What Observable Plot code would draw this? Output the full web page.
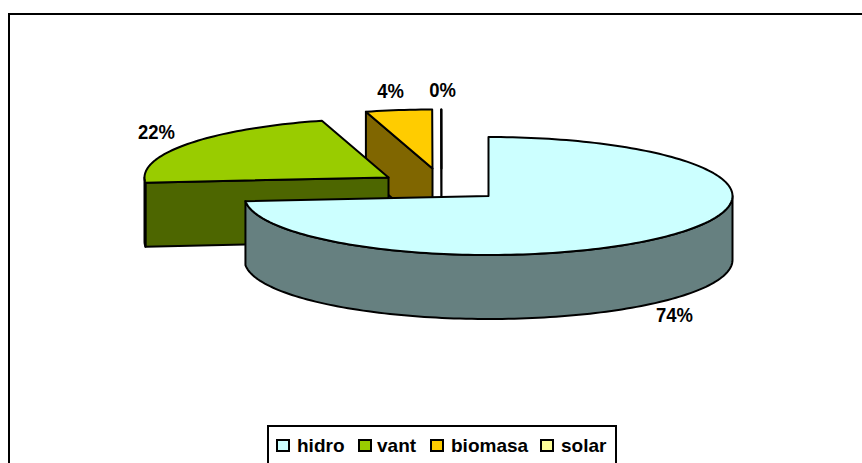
<!DOCTYPE html>
<html><head><meta charset="utf-8">
<script src="https://cdn.jsdelivr.net/npm/d3@7"></script>
<script src="https://cdn.jsdelivr.net/npm/@observablehq/plot@0.6"></script>
<style>
html,body{margin:0;padding:0;background:#fff;overflow:hidden;width:862px;height:463px}
#frame{position:absolute;left:8px;top:13px;width:860px;height:470px;border:2px solid #000;box-sizing:border-box}
#chart{position:absolute;left:0;top:0}
#legend{position:absolute;left:267px;top:425px;width:350px;height:50px;box-sizing:border-box;border:2px solid #000;background:#fff;font:bold 19px "Liberation Sans",Arial,sans-serif;color:#000}
#legend span{position:absolute;top:8px;white-space:nowrap;line-height:22px}
#legend i{position:absolute;top:12px;width:14px;height:13px;box-sizing:border-box;border:2px solid #000}
</style></head><body>
<div id="frame"></div><div id="chart"></div><div id="legend"></div>
<script>
const categories = ["hidro","vant","biomasa","solar"];
const shares = [73.6, 22.0, 4.38, 0.02];
const labels = ["74%","22%","4%","0%"];
const topColors = ["#CCFFFF","#99CC00","#FFCC00","#FFFF99"];
const wallColors = ["#668080","#4D6600","#806600","#808040"];
const centersX = [488,388,432,441];
const centersY = [195.5,177,168,168];
const labelX = [674,156,390,442];
const labelY = [315,132,91,90];
const legendSwatchX = [7,89,161,271];
const legendTextX = [28,108,182,292];

const rx=244, ry=59, depth=64;
const pt=(i,a)=>({x:centersX[i]+rx*Math.sin(a),y:centersY[i]-ry*Math.cos(a)});
const down=p=>({x:p.x,y:p.y+depth});
let cum=0;
const slices=shares.map((s,i)=>{const a0=cum/100*2*Math.PI; cum+=s; return {i,a0,a1:cum/100*2*Math.PI};});
const arc=(i,a0,a1)=>{const n=Math.max(2,Math.ceil((a1-a0)*40));return d3.range(n+1).map(k=>pt(i,a0+(a1-a0)*k/n));};
const poly=(pts,fill)=>Plot.line(pts,{x:"x",y:"y",fill,stroke:"#000",strokeWidth:2,curve:"linear-closed",strokeLinejoin:"round"});
const apex=i=>({x:centersX[i],y:centersY[i]});
const marks=[];
// back to front: solar, biomasa, vant, hidro
for(const k of [3,2,1,0]){
  const {i,a0,a1}=slices[k];
  if(k>0){ // radial wall facing the viewer at the slice's start edge
    const p=pt(i,a0), c=apex(i);
    marks.push(poly([p,c,down(c),down(p)],wallColors[i]));
  }
  const lo=Math.max(a0,Math.PI/2), hi=Math.min(a1,1.5*Math.PI);
  if(hi>lo){
    const a=arc(i,lo,hi);
    marks.push(poly([...a,...a.map(down).reverse()],wallColors[i]));
  }
  marks.push(poly([apex(i),...arc(i,a0,a1)],topColors[i]));
}
marks.push(Plot.text(labels,{x:(d,i)=>labelX[i],y:(d,i)=>labelY[i],text:d=>d,fontSize:20,fontWeight:"bold",fontFamily:"Liberation Sans, Arial, sans-serif",fill:"#000"}));
const plot=Plot.plot({width:862,height:425,margin:0,
  x:{axis:null,domain:[0,862],range:[0,862]},
  y:{axis:null,domain:[0,425],range:[0,425]},
  style:{background:"transparent"},marks});
document.getElementById("chart").append(plot);
// the reference's labels are slightly condensed
plot.querySelectorAll("text").forEach(t=>{
  t.setAttribute("textLength",(t.getComputedTextLength()*0.925).toFixed(1));
  t.setAttribute("lengthAdjust","spacingAndGlyphs");
});
const leg=document.getElementById("legend");
categories.forEach((c,i)=>{
  const sw=document.createElement("i");sw.style.left=legendSwatchX[i]+"px";sw.style.background=topColors[i];leg.append(sw);
  const t=document.createElement("span");t.textContent=c;t.style.left=legendTextX[i]+"px";leg.append(t);
});
</script></body></html>
